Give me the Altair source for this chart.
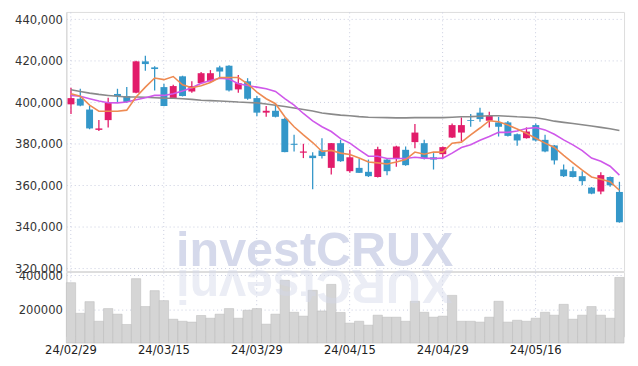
import altair as alt
import pandas as pd

dates = ["24/02/29", "24/03/04", "24/03/05", "24/03/06", "24/03/07", "24/03/08",
         "24/03/11", "24/03/12", "24/03/13", "24/03/14", "24/03/15", "24/03/18",
         "24/03/19", "24/03/20", "24/03/21", "24/03/22", "24/03/25", "24/03/26",
         "24/03/27", "24/03/28", "24/03/29", "24/04/01", "24/04/02", "24/04/03",
         "24/04/04", "24/04/05", "24/04/08", "24/04/09", "24/04/11", "24/04/12",
         "24/04/15", "24/04/16", "24/04/17", "24/04/18", "24/04/19", "24/04/22",
         "24/04/23", "24/04/24", "24/04/25", "24/04/26", "24/04/29", "24/04/30",
         "24/05/02", "24/05/03", "24/05/07", "24/05/08", "24/05/09", "24/05/10",
         "24/05/13", "24/05/14", "24/05/16", "24/05/17", "24/05/20", "24/05/21",
         "24/05/22", "24/05/23", "24/05/24", "24/05/27", "24/05/28", "24/05/29"]

opens = [399000, 401700, 396500, 386700, 391400, 404000, 403000, 404600, 419700, 416800,
         407300, 402000, 412500, 405200, 409200, 410100, 416800, 417600, 406200, 410100,
         402000, 395000, 395900, 392000, 380000, 375700, 374300, 376800, 368400, 380300,
         366800, 368400, 366500, 364000, 372400, 373100, 377100, 380800, 380300, 373500,
         375000, 383000, 385400, 391400, 395000, 391100, 390300, 390300, 384600, 382700,
         389000, 381900, 379200, 367600, 366800, 364400, 358900, 357000, 364000, 356800]
closes = [402000, 398400, 387400, 387400, 399800, 402900, 400100, 419700, 418400, 416000,
          398200, 407800, 403000, 407800, 414000, 414000, 414800, 405700, 409200, 401700,
          395000, 395900, 393000, 376000, 379500, 376300, 373100, 374100, 380300, 371600,
          373500, 366000, 364400, 377400, 366800, 378700, 369700, 385400, 372900, 372400,
          378400, 389000, 389000, 391000, 391900, 393500, 388200, 383800, 381600, 385900,
          381600, 376300, 372000, 364400, 364000, 362000, 356000, 364900, 360000, 342200]
highs = [407000, 406500, 398400, 391400, 402200, 406500, 407300, 420000, 422400, 417300,
         408900, 408400, 412800, 410100, 414600, 415500, 417600, 417800, 413100, 411600,
         403000, 398200, 399300, 392500, 384300, 380000, 375900, 382700, 380400, 381900,
         377100, 372900, 372400, 378600, 372800, 379000, 378700, 389500, 381900, 375500,
         378700, 389800, 392700, 394300, 397300, 395400, 393000, 391000, 385000, 387900,
         389800, 384300, 379400, 370000, 368900, 366800, 359200, 366300, 364200, 361700]
lows = [394300, 398100, 387000, 386200, 387800, 400100, 399800, 404400, 415200, 405700,
        398100, 401600, 402800, 404600, 409000, 409900, 412000, 405200, 404600, 401200,
        393300, 393000, 392700, 375900, 376300, 373100, 358100, 372900, 365200, 371300,
        366000, 365900, 364000, 363700, 364900, 368900, 369400, 377900, 372400, 367600,
        372900, 382800, 381100, 388200, 390600, 387800, 383500, 383500, 379000, 382500,
        381100, 375900, 370000, 364000, 363700, 360000, 355700, 355700, 359300, 342000]

ma_short = [404100, 402900, 398600, 395700, 395700, 395700, 396200, 402500, 407300, 411700,
            410900, 412400, 408400, 407000, 408000, 409500, 411900, 411900, 411900, 408900,
            404900, 401700, 399300, 393000, 388200, 384300, 380600, 376300, 376800, 375500,
            374800, 373100, 371200, 370800, 370300, 371200, 372400, 376000, 375000, 376000,
            376000, 380300, 380800, 384300, 387600, 391100, 390600, 389000, 387100, 385000,
            382700, 380300, 378200, 374400, 370800, 367300, 364000, 362900, 361700, 357600]
ma_mid = [403300, 402900, 401700, 400600, 399800, 399700, 400100, 401200, 402200, 403300,
          403300, 404100, 405400, 407000, 409200, 410500, 411600, 411200, 408900, 408100,
          407300, 406500, 405200, 401700, 398600, 394600, 391000, 388200, 385900, 382500,
          380300, 377100, 374000, 374000, 372900, 372900, 372900, 373500, 373100, 372900,
          373100, 375500, 378200, 379500, 381700, 383500, 385500, 385500, 386200, 387400,
          387800, 386700, 384600, 381900, 379500, 376700, 373100, 371600, 369200, 364900]
ma_long = [406000, 405200, 404400, 403800, 403300, 402900, 402500, 402500, 402400, 402200,
           402000, 401900, 401700, 401400, 401000, 400800, 400600, 400400, 400100, 399900,
           399700, 399200, 398600, 398000, 397200, 396500, 395800, 394800, 394300, 393800,
           393500, 393100, 392800, 392700, 392600, 392500, 392500, 392600, 392600, 392600,
           392600, 392800, 393000, 393100, 393300, 393500, 393500, 393300, 393000, 392800,
           392500, 391800, 390900, 390300, 389800, 389200, 388600, 387900, 387200, 386400]

volumes = [357000, 176000, 245000, 129000, 204000, 171000, 110000, 381000, 216000, 310000,
           251000, 141000, 129000, 124000, 163000, 147000, 171000, 204000, 147000, 194000,
           204000, 112000, 171000, 371000, 182000, 159000, 312000, 190000, 347000, 181000,
           118000, 129000, 106000, 165000, 153000, 153000, 129000, 247000, 182000, 153000,
           159000, 282000, 129000, 129000, 124000, 153000, 247000, 124000, 135000, 129000,
           147000, 182000, 165000, 229000, 141000, 165000, 216000, 165000, 147000, 388000]

date_ticks = ["24/02/29", "24/03/15", "24/03/29", "24/04/15", "24/04/29", "24/05/16"]
price_ticks = [320000, 340000, 360000, 380000, 400000, 420000, 440000]
volume_ticks = [200000, 400000]

watermark = "investCRUX"

UP = "#e21c6a"
DOWN = "#3497c9"
FONT = "DejaVu Sans Condensed, Liberation Sans Narrow, sans-serif"
GRID = "#c9cde0"

df = pd.DataFrame({"date": dates, "open": opens, "close": closes, "high": highs,
                   "low": lows, "volume": volumes})
df["dir"] = ["up" if c >= o else "down" for o, c in zip(opens, closes)]

xscale = alt.Scale(type="band", domain=dates, paddingInner=0, paddingOuter=0)
yscale = alt.Scale(domain=[318700, 443500], nice=False, zero=False)
dir_color = alt.Color("dir:N", scale=alt.Scale(domain=["up", "down"], range=[UP, DOWN]), legend=None)

x_grid_axis = alt.Axis(values=date_ticks, grid=True, gridColor=GRID, gridDash=[1, 3],
                       labels=False, ticks=False, domain=False, title=None, bandPosition=0.5,
                       minExtent=0, maxExtent=0, labelPadding=0, tickSize=0)
y_axis = alt.Axis(values=price_ticks, format=",d", grid=True, gridColor=GRID, gridDash=[1, 3],
                  ticks=False, domainColor="#d6d6d6", labelFont=FONT, labelFontSize=13,
                  labelColor="#333333", labelPadding=4, title=None,
                  minExtent=50, maxExtent=50)

base = alt.Chart(df)

wm = alt.Chart(pd.DataFrame({"t": [watermark]})).mark_text(
    font="Liberation Sans", fontWeight="bold", fontSize=49, color="#d3d8ea",
    align="left", baseline="alphabetic", opacity=0.95
).encode(x=alt.value(111), y=alt.value(257), text="t:N")

wicks = base.mark_rule(strokeWidth=1.3).encode(
    x=alt.X("date:N", scale=xscale, axis=x_grid_axis),
    y=alt.Y("low:Q", scale=yscale, axis=y_axis),
    y2="high:Q",
    color=dir_color,
)
bodies = base.mark_bar(size=7).encode(
    x=alt.X("date:N", scale=xscale),
    y=alt.Y("open:Q", scale=yscale),
    y2="close:Q",
    color=dir_color,
)


def ma_line(values, color):
    d = pd.DataFrame({"date": dates, "value": values})
    return alt.Chart(d).mark_line(strokeWidth=1.6, color=color).encode(
        x=alt.X("date:N", scale=xscale),
        y=alt.Y("value:Q", scale=yscale),
    )


lines = [ma_line(ma_long, "#8a8a8a"), ma_line(ma_mid, "#cf58ea"), ma_line(ma_short, "#ee8a52")]

main = alt.layer(wm, wicks, bodies, *lines).properties(width=564, height=262)

# reflection of the watermark: letters rotated individually
adv = {"i": 0.278, "n": 0.611, "v": 0.556, "e": 0.556, "s": 0.556, "t": 0.333,
       "C": 0.722, "R": 0.722, "U": 0.722, "X": 0.667}
xs, pos = [], 111.0
for ch in watermark:
    w = adv[ch] * 49
    xs.append(pos + w / 2)
    pos += w
refl_df = pd.DataFrame({"ch": list(watermark), "px": xs})

vol_bars = base.mark_bar(color="#d5d5d5", stroke="#b9b9b9", strokeWidth=0.5).encode(
    x=alt.X("date:N", scale=xscale,
            axis=alt.Axis(values=date_ticks, grid=True, gridColor=GRID, gridDash=[1, 3],
                          ticks=False, domain=False, labelAngle=0, labelFont=FONT,
                          labelFontSize=13, labelColor="#222222", labelPadding=7,
                          title=None, bandPosition=0.5)),
    y=alt.Y("volume:Q", scale=alt.Scale(domain=[40000, 420000], nice=False, zero=False),
            axis=alt.Axis(values=volume_ticks, format="d", grid=True, gridColor=GRID,
                          gridDash=[1, 3], ticks=False, domainColor="#d6d6d6",
                          labelFont=FONT, labelFontSize=13, labelColor="#333333",
                          labelPadding=4, title=None, minExtent=50, maxExtent=50)),
)
refl = alt.Chart(refl_df).mark_text(
    font="Liberation Sans", fontWeight="bold", fontSize=49, color="#d3d8ea",
    align="center", baseline="alphabetic", angle=180, opacity=0.45
).encode(x=alt.X("px:Q", scale=None), y=alt.value(-2), text="ch:N")

vol = alt.layer(vol_bars, refl).properties(width=564, height=65)

chart = alt.vconcat(main, vol, spacing=1, bounds="flush").properties(
    padding={"left": 6, "top": 1, "right": 5, "bottom": 5}
).configure_view(stroke="#d9d9d9", strokeWidth=1).configure(background="white")

chart.save("out.html", embed_options={"renderer": "svg", "actions": False})
